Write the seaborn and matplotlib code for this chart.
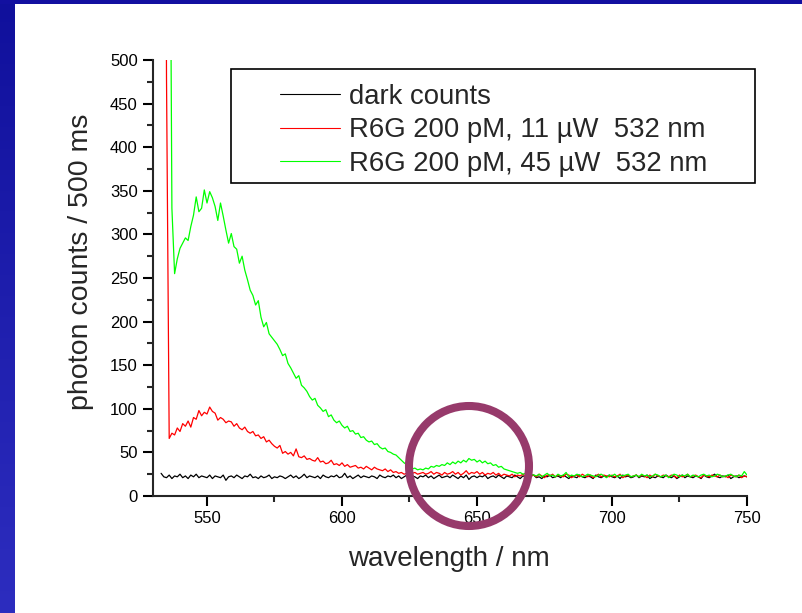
import numpy as np
import pandas as pd
import matplotlib
matplotlib.use("Agg")
import matplotlib.pyplot as plt
from matplotlib.patches import Ellipse, Rectangle
from matplotlib.lines import Line2D
from matplotlib.ticker import MultipleLocator
import seaborn as sns

# 스펙트럼 값 (1 nm 간격, 그림에서 읽은 값)
dark_start = 533
dark_counts = [
    26, 22, 21, 24, 20, 23, 22,
    25, 21, 23, 20, 24, 22, 25, 21, 23, 22,
    21, 24, 20, 23, 22, 21, 24, 18, 22, 23,
    21, 24, 22, 20, 23, 22, 25, 21, 22, 20,
    23, 21, 22, 24, 20, 22, 21, 23, 22, 20,
    22, 24, 21, 23, 20, 22, 25, 21, 23, 22,
    21, 23, 20, 24, 22, 21, 23, 22, 24, 21,
    22, 26, 21, 23, 20, 22, 24, 21, 23, 22,
    21, 23, 22, 20, 24, 22, 21, 23, 22, 24,
    21, 23, 20, 22, 24, 21, 23, 22, 20, 23,
    22, 24, 21, 23, 20, 22, 24, 21, 22, 23,
    21, 24, 22, 20, 23, 21, 24, 19, 22, 23,
    21, 23, 22, 24, 20, 22, 23, 21, 24, 22,
    20, 23, 22, 21, 24, 22, 20, 23, 22, 21,
    23, 24, 21, 22, 20, 23, 22, 24, 21, 22,
    23, 21, 24, 22, 20, 23, 22, 21, 24, 22,
    21, 23, 22, 20, 24, 22, 21, 23, 22, 24,
    22, 21, 23, 20, 24, 22, 23, 21, 22, 24,
    21, 23, 22, 24, 20, 22, 21, 23, 22, 21,
    24, 22, 21, 23, 20, 22, 24, 21, 23, 22,
    21, 23, 22, 20, 24, 22, 21, 23, 25, 22,
    21, 23, 22, 24, 20, 22, 23, 21, 22, 23,
    22,
]

red_start = 534
red_11uw = [
    1500, 480, 66, 72, 70, 78,
    74, 83, 80, 86, 79, 90, 88, 98, 92, 96,
    94, 102, 97, 95, 87, 90, 88, 84, 86, 85,
    80, 83, 78, 76, 79, 74, 72, 74, 69, 70,
    66, 68, 62, 64, 60, 57, 55, 58, 49, 51,
    48, 50, 46, 54, 45, 44, 46, 42, 43, 41,
    40, 44, 39, 40, 37, 38, 41, 36, 37, 35,
    38, 34, 36, 33, 34, 35, 32, 33, 31, 34,
    32, 30, 33, 31, 30, 29, 31, 28, 30, 27,
    28, 26, 27, 25, 26, 28, 26, 27, 25, 26,
    27, 25, 26, 28, 25, 27, 26, 24, 27, 25,
    26, 28, 25, 27, 24, 26, 29, 25, 27, 26,
    28, 25, 27, 24, 26, 25, 27, 24, 26, 23,
    25, 24, 23, 25, 22, 24, 23, 25, 22, 24,
    23, 24, 22, 25, 23, 21, 24, 23, 25, 22,
    24, 23, 22, 25, 24, 21, 23, 24, 22, 25,
    23, 22, 24, 21, 23, 25, 22, 24, 23, 22,
    24, 22, 23, 25, 21, 23, 24, 22, 23, 24,
    22, 24, 23, 21, 24, 22, 25, 23, 22, 24,
    23, 22, 24, 23, 21, 24, 22, 23, 25, 22,
    23, 24, 22, 21, 24, 23, 22, 24, 23, 22,
    24, 22, 23, 21, 24, 23, 22, 24, 21, 23,
    22,
]

green_start = 536
green_45uw = [
    900, 330, 255, 272,
    284, 290, 296, 293, 309, 322, 343, 326, 330, 351,
    336, 349, 342, 332, 316, 336, 321, 305, 290, 301,
    286, 283, 267, 275, 259, 248, 236, 230, 219, 224,
    205, 194, 199, 186, 182, 178, 174, 168, 161, 163,
    152, 147, 141, 135, 138, 127, 124, 120, 114, 110,
    112, 104, 101, 97, 99, 91, 93, 87, 84, 86,
    81, 78, 80, 74, 75, 71, 72, 67, 68, 64,
    62, 63, 59, 60, 56, 54, 55, 51, 50, 48,
    47, 44, 41, 38, 36, 33, 31, 32, 30, 31,
    30, 32, 31, 34, 33, 35, 34, 36, 35, 38,
    36, 39, 37, 40, 38, 41, 39, 43, 41, 42,
    39, 41, 38, 40, 37, 38, 35, 36, 33, 34,
    31, 30, 29, 28, 27, 26, 27, 25, 26, 24,
    25, 24, 23, 25, 22, 24, 26, 23, 24, 22,
    25, 23, 24, 27, 22, 24, 23, 25, 24, 22,
    23, 25, 24, 23, 22, 24, 25, 23, 21, 24,
    23, 25, 22, 24, 23, 24, 25, 22, 23, 24,
    22, 25, 23, 24, 22, 23, 25, 24, 22, 23,
    24, 21, 23, 25, 24, 22, 24, 23, 25, 22,
    24, 23, 22, 24, 25, 23, 24, 22, 23, 25,
    24, 22, 23, 24, 25, 23, 22, 24, 23, 28,
    24,
]

labels = ["dark counts", "R6G 200 pM, 11 µW  532 nm", "R6G 200 pM, 45 µW  532 nm"]
colors = ["#000000", "#ff0000", "#00ff00"]

frames = []
for name, start, vals in zip(labels, [dark_start, red_start, green_start],
                             [dark_counts, red_11uw, green_45uw]):
    frames.append(pd.DataFrame({"wavelength": np.arange(start, start + len(vals)),
                                "counts": vals, "series": name}))
df = pd.concat(frames, ignore_index=True)

sns.set_style("ticks")
plt.rcParams["font.family"] = ["Liberation Sans", "DejaVu Sans"]

fig = plt.figure(figsize=(8.03, 6.13), dpi=100)
W, H = 803, 613

# 슬라이드 배경 (파란 테두리)
grad = fig.add_axes([0, 0, 15 / W, 1])
grad.imshow(np.linspace(0, 1, 256).reshape(-1, 1), aspect="auto",
            cmap=matplotlib.colors.LinearSegmentedColormap.from_list("b", ["#10109c", "#2d2dbf"]),
            extent=[0, 1, 0, 1], origin="upper")
grad.axis("off")
fig.add_artist(Rectangle((0, 1 - 4 / H), 1, 4 / H, transform=fig.transFigure,
                         color="#1210a0", lw=0))

ax = fig.add_axes([153 / W, 1 - 496 / H, (747 - 153) / W, (496 - 60) / H])
sns.lineplot(data=df, x="wavelength", y="counts", hue="series", hue_order=labels,
             palette=colors, estimator=None, lw=0.9, legend=False, ax=ax)

ax.set_xlim(530, 750)
ax.set_ylim(0, 500)
ax.xaxis.set_major_locator(MultipleLocator(50))
ax.xaxis.set_minor_locator(MultipleLocator(25))
ax.yaxis.set_major_locator(MultipleLocator(50))
ax.yaxis.set_minor_locator(MultipleLocator(25))
ax.set_xticks([550, 600, 650, 700, 750])
sns.despine(ax=ax)
for s in ["left", "bottom"]:
    ax.spines[s].set_linewidth(1.5)
ax.tick_params(which="major", length=7, width=1.5, labelsize=12, pad=4, colors="black")
ax.tick_params(which="minor", length=4.5, width=1.5)

ax.set_xlabel("wavelength / nm", fontsize=20)
ax.set_ylabel("photon counts / 500 ms", fontsize=20.5)
ax.xaxis.set_label_coords(0.498, -0.115)
ax.yaxis.set_label_coords(-0.1, 0.538)

# 범례
fig.add_artist(Rectangle((231 / W, 1 - 183 / H), (755 - 231) / W, (183 - 69) / H,
                         transform=fig.transFigure, fill=False, ec="black", lw=1.2))
handles = [Line2D([], [], color=c, lw=0.8) for c in colors]
fig.legend(handles, labels, loc="upper left", bbox_to_anchor=(280 / W, 1 - 84 / H),
           frameon=False, fontsize=19.8, handlelength=2.2, handletextpad=0.3,
           labelspacing=0.27, borderpad=0, borderaxespad=0)

# 강조 원
fig.add_artist(Ellipse((469 / W, 1 - 466 / H), 120 / W, 120 / H, transform=fig.transFigure,
                       fill=False, ec="#973a6b", lw=5.8))

fig.savefig("out.png", dpi=100)
